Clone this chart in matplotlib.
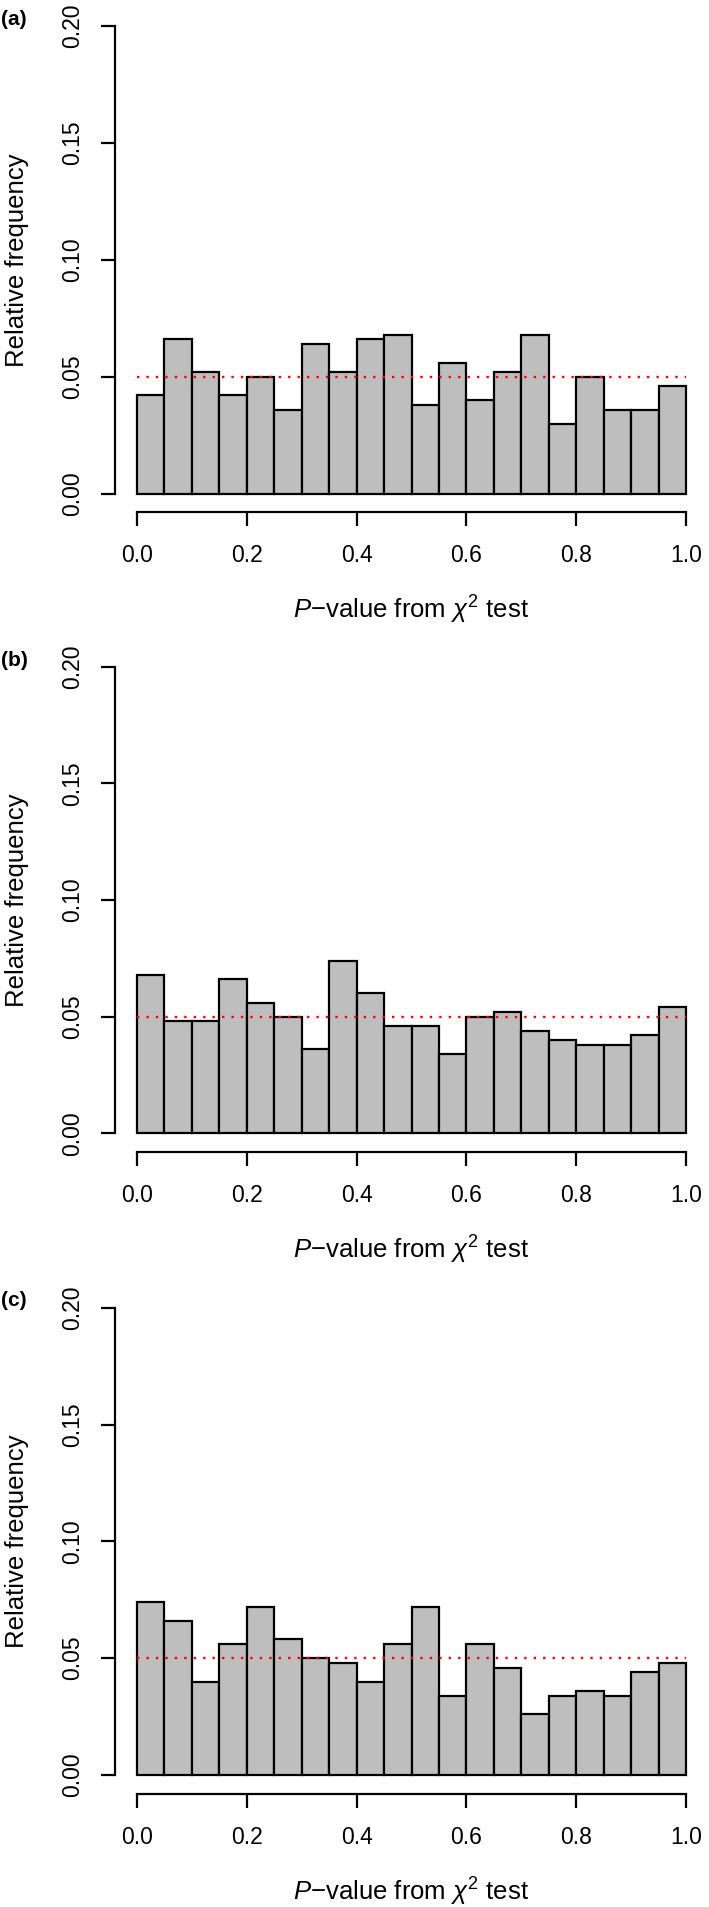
import matplotlib
matplotlib.use("Agg")
import matplotlib.pyplot as plt
import numpy as np

plt.rcParams['font.family'] = ['Liberation Sans', 'DejaVu Sans']
plt.rcParams['mathtext.fontset'] = 'custom'
plt.rcParams['mathtext.rm'] = 'Liberation Sans'
plt.rcParams['mathtext.it'] = 'Liberation Sans:italic'

# bin edges shared by all panels (20 bins on [0, 1])
edges = np.linspace(0, 1, 21)

# relative frequencies
freq_a = [0.042, 0.066, 0.052, 0.042, 0.050, 0.036, 0.064, 0.052, 0.066, 0.068,
          0.038, 0.056, 0.040, 0.052, 0.068, 0.030, 0.050, 0.036, 0.036, 0.046]
freq_b = [0.068, 0.048, 0.048, 0.066, 0.056, 0.050, 0.036, 0.074, 0.060, 0.046,
          0.046, 0.034, 0.050, 0.052, 0.044, 0.040, 0.038, 0.038, 0.042, 0.054]
freq_c = [0.074, 0.066, 0.040, 0.056, 0.072, 0.058, 0.050, 0.048, 0.040, 0.056,
          0.072, 0.034, 0.056, 0.046, 0.026, 0.034, 0.036, 0.034, 0.044, 0.048]
panels = ["(a)", "(b)", "(c)"]
expected = 0.05

xticks = [0.0, 0.2, 0.4, 0.6, 0.8, 1.0]
yticks = [0.00, 0.05, 0.10, 0.15, 0.20]

W, H = 709, 1907
fig = plt.figure(figsize=(W / 100, H / 100), dpi=100)

# pixel layout of the three plot regions (top, bottom)
boxes = [(7.3, 512.4), (648.0, 1152.0), (1289.0, 1793.7)]
left_px, right_px = 115, 708
fs = 16.5
fs_lab = 18.5

for freq, lab, (top, bot) in zip([freq_a, freq_b, freq_c], panels, boxes):
    ax = fig.add_axes([left_px / W, 1 - bot / H, (right_px - left_px) / W, (bot - top) / H])
    ax.bar(edges[:-1], freq, width=np.diff(edges), align="edge",
           color="#bebebe", edgecolor="black", linewidth=1.6)
    ax.plot([0, 1], [expected, expected], color="red", linestyle=(0, (1, 3)),
            linewidth=1.7, zorder=5)
    ax.set_xlim(-0.04, 1.04)
    ax.set_ylim(-0.008, 0.208)

    for s in ["top", "right"]:
        ax.spines[s].set_visible(False)
    ax.spines["left"].set_bounds(0, 0.2)
    ax.spines["bottom"].set_bounds(0, 1)
    ax.spines["left"].set_linewidth(1.6)
    ax.spines["bottom"].set_linewidth(1.6)

    ax.set_xticks(xticks)
    ax.set_xticklabels(["%.1f" % v for v in xticks], fontsize=fs)
    ax.set_yticks(yticks)
    ax.set_yticklabels(["%.2f" % v for v in yticks], fontsize=fs, rotation=90, va="center")
    ax.tick_params(length=10, width=1.6, pad=13)
    ax.tick_params(axis="y", pad=12)

    mid = (top + bot) / 2
    fig.text(17 / W, 1 - mid / H, "Relative frequency", rotation=90,
             ha="center", va="center", fontsize=fs_lab)
    fig.text(411 / W, 1 - (bot + 98) / H, r"$\mathit{P}$" + "\u2212value from " + r"$\chi^2$ test",
             ha="center", va="center", fontsize=fs_lab)
    fig.text(1 / W, 1 - (top + 12) / H, lab, ha="left", va="center",
             fontsize=15, fontweight="bold")

fig.savefig("out.png", dpi=100)
